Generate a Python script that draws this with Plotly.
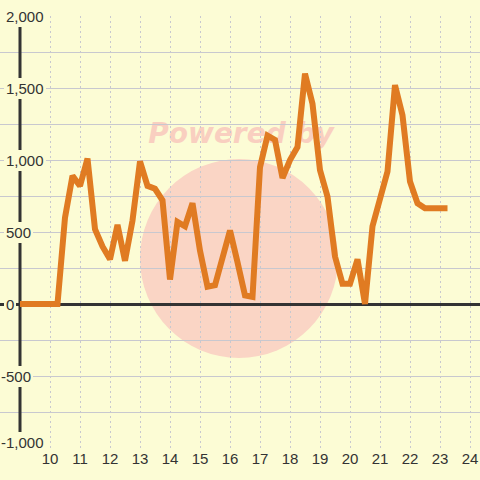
import plotly.graph_objects as go

# ---- data ----
times = [9.0, 9.25, 9.5, 9.75, 10.0, 10.25, 10.5, 10.75, 11.0, 11.25, 11.5, 11.75,
         12.0, 12.25, 12.5, 12.75, 13.0, 13.25, 13.5, 13.75, 14.0, 14.25, 14.5, 14.75,
         15.0, 15.25, 15.5, 15.75, 16.0, 16.25, 16.5, 16.75, 17.0, 17.25, 17.5, 17.75,
         18.0, 18.25, 18.5, 18.75, 19.0, 19.25, 19.5, 19.75, 20.0, 20.25, 20.5, 20.75,
         21.0, 21.25, 21.5, 21.75, 22.0, 22.25, 22.5, 22.75, 23.0, 23.25]
values = [0, 0, 0, 0, 0, 0, 600, 890, 820, 1010, 520, 400,
          310, 550, 300, 580, 990, 820, 800, 720, 170, 570, 540, 700,
          370, 120, 130, 320, 510, 290, 60, 50, 950, 1170, 1140, 875,
          1000, 1090, 1600, 1390, 930, 745, 330, 140, 140, 310, 0, 540,
          720, 920, 1520, 1310, 850, 700, 665, 665, 665, 665]

x_tick_vals = [10, 11, 12, 13, 14, 15, 16, 17, 18, 19, 20, 21, 22, 23, 24]
x_tick_text = ["10", "11", "12", "13", "14", "15", "16", "17", "18", "19", "20", "21", "22", "23", "24"]
y_tick_vals = [2000, 1500, 1000, 500, 0, -500, -1000]
y_tick_text = ["2,000", "1,500", "1,000", "500", "0", "-500", "-1,000"]

BG = "#fcfcd5"
GRID = "#c8c8cf"
AXIS = "#333333"
FONT = "Liberation Sans, Arial, sans-serif"

fig = go.Figure()
fig.add_trace(go.Scatter(
    x=times, y=values, mode="lines",
    line=dict(color="#e07b22", width=6),
    hoverinfo="skip", showlegend=False,
))

shapes = [
    # watermark circle
    dict(type="circle", xref="paper", yref="paper",
         x0=140 / 480, x1=338 / 480, y0=(448 - 358) / 432, y1=(448 - 159) / 432,
         fillcolor="#fad5c5", line=dict(width=0), layer="below"),
    # watermark text
    dict(type="rect", xref="paper", yref="paper",
         x0=140 / 480, x1=342 / 480, y0=(448 - 150) / 432, y1=(448 - 112) / 432,
         line=dict(width=0), fillcolor="rgba(0,0,0,0)", layer="below",
         label=dict(text="Powered by", textposition="middle center",
                    font=dict(family="DejaVu Sans", size=28, color="#f9cfc0",
                              weight="bold", style="italic"))),
    # cover grid left of the axis
    dict(type="rect", xref="paper", yref="paper", x0=0, x1=19 / 480, y0=0, y1=1,
         fillcolor=BG, line=dict(width=0), layer="between"),
    # y axis line
    dict(type="line", xref="x", yref="y", x0=9, x1=9, y0=-1000, y1=2000,
         line=dict(color=AXIS, width=3), layer="between"),
]

annotations = []
for v, t in zip(y_tick_vals, y_tick_text):
    annotations.append(dict(
        xref="paper", yref="y", x=0, y=v, xanchor="left", yanchor="middle",
        xshift=(-1 if v < 0 else 4), yshift=(6 if v == -1000 else 0),
        text=t, showarrow=False,
        font=dict(family=FONT, size=15, color=AXIS),
        bgcolor=BG, borderpad=2, borderwidth=0,
    ))

fig.update_layout(
    width=480, height=480,
    margin=dict(l=0, r=0, t=16, b=32),
    paper_bgcolor=BG, plot_bgcolor=BG,
    showlegend=False,
    shapes=shapes,
    annotations=annotations,
    xaxis=dict(
        range=[9 - 20 / 30, 9 + 460 / 30],
        tickvals=x_tick_vals, ticktext=x_tick_text,
        showgrid=True, gridcolor=GRID, gridwidth=1, griddash="2px,3px",
        zeroline=False, showline=False, ticks="",
        tickfont=dict(family=FONT, size=15, color=AXIS),
    ),
    yaxis=dict(
        range=[-1000, 2000], dtick=250, tick0=0,
        showgrid=True, gridcolor=GRID, gridwidth=1,
        zeroline=True, zerolinecolor=AXIS, zerolinewidth=3,
        showticklabels=False, showline=False, ticks="",
    ),
)

fig.write_html("out.html", config={"displayModeBar": False},
               post_script="document.body.style.margin='0';document.body.style.overflow='hidden';")
